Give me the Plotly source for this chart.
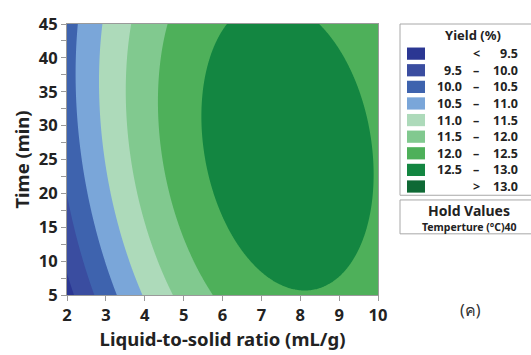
import numpy as np
import plotly.graph_objects as go

# Quadratic response-surface model: Yield = f(ratio, time), temperature held at 40 °C
coef_names = ["b0", "b_ratio", "b_time", "b_ratio2", "b_time2", "b_ratio_time"]
coef_values = [6.568, 1.3833, 0.07543, -0.084, -0.000899, -0.003486]

ratio_range = [2, 10]
time_range = [5, 45]

x_ticks = [2, 3, 4, 5, 6, 7, 8, 9, 10]
y_ticks = [5, 10, 15, 20, 25, 30, 35, 40, 45]

level_start, level_end, level_step = 9.5, 13.0, 0.5
band_labels = [("", "<", "9.5"), ("9.5", "–", "10.0"), ("10.0", "–", "10.5"),
               ("10.5", "–", "11.0"), ("11.0", "–", "11.5"), ("11.5", "–", "12.0"),
               ("12.0", "–", "12.5"), ("12.5", "–", "13.0"), ("", ">", "13.0")]
band_colors = ["#2B3793", "#3A4DA0", "#3E63AE", "#7AA6D9", "#ADDABA",
               "#81C98F", "#4EB05A", "#138641", "#0F6935"]

hold_title = "Hold Values"
hold_text = "Temperture (°C)40"
panel_tag = "(ค)"

c = dict(zip(coef_names, coef_values))
xs = np.linspace(ratio_range[0], ratio_range[1], 241)
ys = np.linspace(time_range[0], time_range[1], 241)
X, Y = np.meshgrid(xs, ys)
Z = (c["b0"] + c["b_ratio"] * X + c["b_time"] * Y + c["b_ratio2"] * X ** 2
     + c["b_time2"] * Y ** 2 + c["b_ratio_time"] * X * Y)

n = len(band_colors)
colorscale = [[i / (n - 1), col] for i, col in enumerate(band_colors)]

fig = go.Figure()
fig.add_trace(go.Contour(
    x=xs, y=ys, z=Z,
    colorscale=colorscale,
    contours=dict(start=level_start, end=level_end, size=level_step,
                  coloring="fill", showlines=False),
    line=dict(width=0),
    showscale=False,
    hoverinfo="skip",
))

font_main = "Noto Sans, Open Sans, sans-serif"
ink = "#222222"
axis_common = dict(
    showline=True, linecolor="#9A9A9A", linewidth=1, mirror=True,
    ticks="outside", ticklen=5, tickcolor="#9A9A9A", tickwidth=1,
    showgrid=False, zeroline=False,
    tickfont=dict(family=font_main, size=16.5, color=ink, weight="bold"),
)
fig.update_xaxes(range=ratio_range, tickvals=x_ticks, **axis_common,
                 title=dict(text="Liquid-to-solid ratio (mL/g)", standoff=4,
                            font=dict(family=font_main, size=18.5, color=ink, weight="bold")))
fig.update_yaxes(range=time_range, tickvals=y_ticks, **axis_common,
                 minor=dict(dtick=2.5, ticks="outside", ticklen=5, tickcolor="#9A9A9A"),
                 title=dict(text="Time (min)", standoff=4,
                            font=dict(family=font_main, size=18.5, color=ink, weight="bold")))

W, H = 531, 355
ml, mr, mt, mb = 67, 153, 15, 52
pw, ph = W - ml - mr, H - mt - mb


def px(xp):
    return (xp - ml) / pw


def py(yp):
    return (H - mb - yp) / ph


shapes = [
    dict(type="rect", xref="paper", yref="paper", x0=px(400), x1=px(535),
         y0=py(197), y1=py(15), line=dict(color="#A8A8A8", width=1), fillcolor="white"),
    dict(type="rect", xref="paper", yref="paper", x0=px(400), x1=px(535),
         y0=py(238), y1=py(202), line=dict(color="#A8A8A8", width=1), fillcolor="white"),
]
annotations = []


def note(text, x, y, size, anchor="center", bold=True, color=ink):
    annotations.append(dict(text=text, xref="paper", yref="paper", x=px(x), y=py(y),
                            showarrow=False, xanchor=anchor, yanchor="middle", borderpad=0,
                            font=dict(family=font_main, size=size, color=color,
                                      weight="bold" if bold else "normal")))


note("Yield (%)", 473, 27, 13)
row0, row_step = 46.5, 17.65
for i, ((lo, sep, hi), col) in enumerate(zip(band_labels, band_colors)):
    yc = row0 + i * row_step
    shapes.append(dict(type="rect", xref="paper", yref="paper", x0=px(407), x1=px(425),
                       y0=py(yc + 6.5), y1=py(yc - 6.5), line=dict(width=0), fillcolor=col))
    if lo:
        note(lo, 463, yc, 12.5, "right")
    note(sep, 476, yc, 12.5)
    note(hi, 519, yc, 12.5, "right")

note(hold_title, 469, 213, 14)
note(hold_text, 469, 231, 10.5)
note(panel_tag, 470, 319, 16, bold=False, color="#333333")

fig.update_layout(
    width=W, height=H,
    margin=dict(l=ml, r=mr, t=mt, b=mb),
    paper_bgcolor="white", plot_bgcolor="white",
    shapes=shapes, annotations=annotations,
    showlegend=False,
)

fig.write_html("out.html")
